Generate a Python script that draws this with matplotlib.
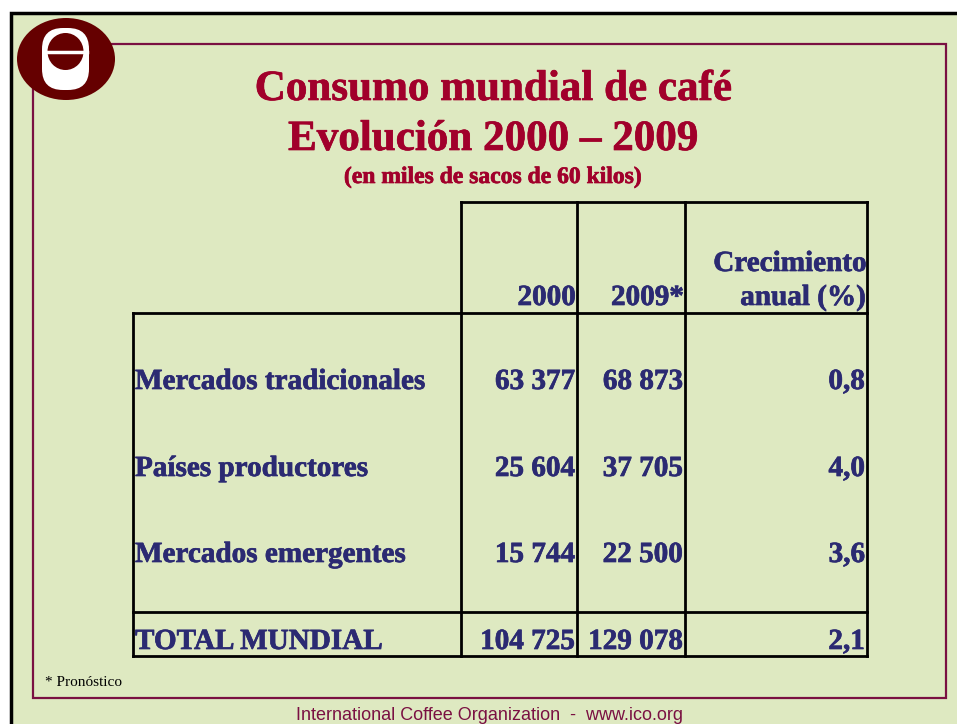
import matplotlib.pyplot as plt
import matplotlib.patheffects as pe
from matplotlib.patches import Rectangle, Ellipse, FancyBboxPatch

# ---- table content ----
row_labels = ["Mercados tradicionales", "Países productores", "Mercados emergentes", "TOTAL MUNDIAL"]
values_2000 = ["63 377", "25 604", "15 744", "104 725"]
values_2009 = ["68 873", "37 705", "22 500", "129 078"]
growth = ["0,8", "4,0", "3,6", "2,1"]
col_headers = ["2000", "2009*", "Crecimiento\nanual (%)"]

title_1 = "Consumo mundial de café"
title_2 = "Evolución 2000 – 2009"
subtitle = "(en miles de sacos de 60 kilos)"
note = "* Pronóstico"
footer = "International Coffee Organization  -  www.ico.org"

BG = "#dee9c1"
RED = "#a1002b"
NAVY = "#2b2a72"
MAROON = "#7a1042"
LOGO = "#650000"
SERIF = ["Liberation Serif", "DejaVu Serif"]

W, H = 957, 724
fig = plt.figure(figsize=(W / 100, H / 100), dpi=100)
ax = fig.add_axes([0, 0, 1, 1])
ax.set_xlim(0, W)
ax.set_ylim(H, 0)
ax.axis("off")

# slide background + frames
ax.add_patch(Rectangle((11, 13), W + 20, H + 20, facecolor=BG, edgecolor="black", lw=2.5))
ax.add_patch(Rectangle((33, 44), 913, 654, facecolor="none", edgecolor=MAROON, lw=1.6))

# logo
ax.add_patch(Ellipse((66, 59), 98, 82, facecolor=LOGO, edgecolor="none", zorder=3))
ax.add_patch(FancyBboxPatch((42, 28), 47, 62, boxstyle="round,pad=0,rounding_size=21",
                            facecolor="white", edgecolor="none", zorder=4))
ax.add_patch(Ellipse((65.5, 51.5), 36, 37, facecolor=LOGO, edgecolor="none", zorder=5))
ax.plot([44, 87], [51.5, 51.5], color="white", lw=2.5, zorder=6)

# titles
bold = [pe.withStroke(linewidth=0.5, foreground=RED)]
ax.text(493, 100, title_1, ha="center", va="baseline", color=RED, fontsize=31,
        fontweight="bold", family=SERIF, path_effects=bold)
ax.text(493, 150, title_2, ha="center", va="baseline", color=RED, fontsize=31,
        fontweight="bold", family=SERIF, path_effects=bold)
ax.text(493, 183, subtitle, ha="center", va="baseline", color=RED, fontsize=17,
        fontweight="bold", family=SERIF, path_effects=bold)

# table grid
col_x = [133, 461, 577, 685, 867]
y_top, y_head, y_total, y_bot = 202, 313, 612, 656
lw = 2
for x in col_x[1:]:
    ax.plot([x, x], [y_top, y_bot], color="black", lw=lw, solid_capstyle="projecting")
ax.plot([col_x[0], col_x[0]], [y_head, y_bot], color="black", lw=lw, solid_capstyle="projecting")
ax.plot([col_x[1], col_x[-1]], [y_top, y_top], color="black", lw=lw, solid_capstyle="projecting")
for y in (y_head, y_total, y_bot):
    ax.plot([col_x[0], col_x[-1]], [y, y], color="black", lw=lw, solid_capstyle="projecting")

# headers
tkw = dict(color=NAVY, fontsize=21, fontweight="bold", family=SERIF,
           path_effects=[pe.withStroke(linewidth=0.5, foreground=NAVY)])
for x, h in zip(col_x[2:], col_headers):
    lines = h.split("\n")
    for i, line in enumerate(reversed(lines)):
        ax.text(x - 1, 305 - 34 * i, line, ha="right", va="baseline", **tkw)

# rows
row_y = [389, 476, 562, 649]
for y, lab, a, b, g in zip(row_y, row_labels, values_2000, values_2009, growth):
    ax.text(col_x[0] + 2, y, lab, ha="left", va="baseline", **tkw)
    ax.text(col_x[2] - 2, y, a, ha="right", va="baseline", **tkw)
    ax.text(col_x[3] - 2, y, b, ha="right", va="baseline", **tkw)
    ax.text(col_x[4] - 2, y, g, ha="right", va="baseline", **tkw)

# footnote and footer
ax.text(45, 683, note, ha="left", va="center", color="black", fontsize=11, family=SERIF)
ax.text(490, 716, footer, ha="center", va="center", color=MAROON, fontsize=13,
        family=["Liberation Sans Narrow", "Liberation Sans", "DejaVu Sans"])

fig.savefig("out.png", dpi=100, facecolor="white")
